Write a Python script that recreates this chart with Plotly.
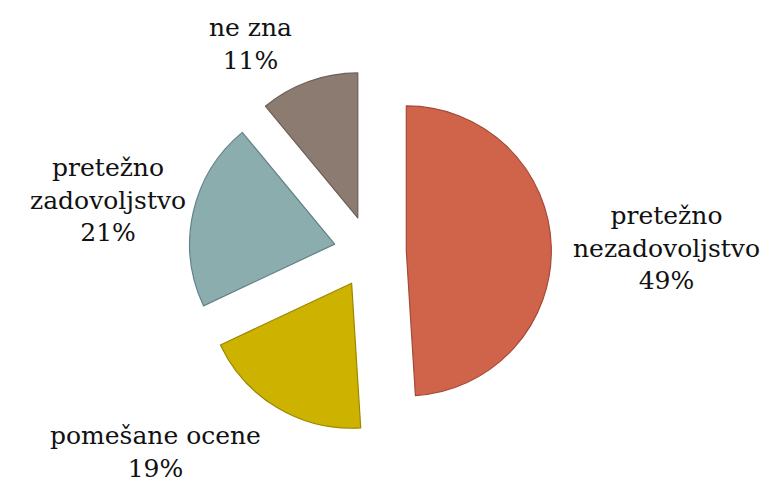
import plotly.graph_objects as go

labels = ["pretežno nezadovoljstvo", "pomešane ocene", "pretežno zadovoljstvo", "ne zna"]
label_lines = [["pretežno", "nezadovoljstvo"], ["pomešane ocene"], ["pretežno", "zadovoljstvo"], ["ne zna"]]
values = [49, 19, 21, 11]

colors = ["#D0644B", "#CDB300", "#8BADAE", "#8B7B70"]
line_colors = ["#A44A36", "#9C8700", "#62808A", "#6E5F56"]

W, H = 767, 482

fig = go.Figure()
fig.add_trace(go.Pie(
    labels=labels,
    values=values,
    sort=False,
    direction="clockwise",
    rotation=0,
    pull=[0.25] * len(values),
    marker=dict(colors=colors, line=dict(color=line_colors, width=1.2)),
    textinfo="none",
    hoverinfo="label+percent",
    showlegend=False,
    domain=dict(x=[0.2, 0.765], y=[0.1011, 0.8532]),
))

# label block centres (pixels)
label_pos = [(666, 248), (155, 452), (108, 200), (250, 44)]
total = sum(values)
for lines, v, (px, py) in zip(label_lines, values, label_pos):
    txt = "<br>".join(lines + [f"{round(100 * v / total)}%"])
    fig.add_annotation(
        x=px / W, y=1 - py / H, xref="paper", yref="paper",
        text=txt, showarrow=False, align="center",
        xanchor="center", yanchor="middle",
        font=dict(family="DejaVu Serif", size=25, color="#111111"),
    )

fig.update_layout(
    width=W, height=H,
    margin=dict(l=0, r=0, t=0, b=0),
    paper_bgcolor="white",
    plot_bgcolor="white",
)

fig.write_html("out.html", config={"displayModeBar": False},
               post_script="document.body.style.margin='0';")
